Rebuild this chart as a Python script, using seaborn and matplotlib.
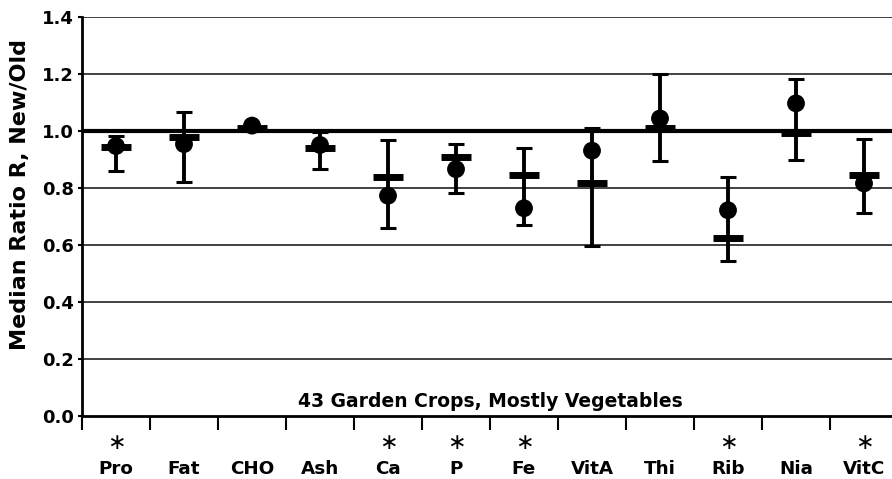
import matplotlib
matplotlib.use("Agg")
import matplotlib.pyplot as plt
import matplotlib.transforms as mtransforms
import seaborn as sns
import pandas as pd
import numpy as np

categories = ["Pro", "Fat", "CHO", "Ash", "Ca", "P", "Fe", "VitA", "Thi", "Rib", "Nia", "VitC"]
dot_values = [0.947, 0.954, 1.019, 0.951, 0.773, 0.866, 0.729, 0.931, 1.044, 0.722, 1.097, 0.816]
dash_values = [0.945, 0.979, 1.009, 0.941, 0.840, 0.910, 0.846, 0.818, 1.012, 0.623, 0.992, 0.847]
err_low = [0.860, 0.821, 1.000, 0.866, 0.660, 0.781, 0.670, 0.596, 0.894, 0.544, 0.898, 0.711]
err_high = [0.983, 1.067, 1.020, 0.998, 0.968, 0.953, 0.941, 1.012, 1.200, 0.839, 1.184, 0.973]
significant = [True, False, False, False, True, True, True, False, False, True, False, True]
annotation = "43 Garden Crops, Mostly Vegetables"
y_label = "Median Ratio R, New/Old"

sns.set_style("white")
plt.rcParams["font.family"] = ["DejaVu Sans"]
plt.rcParams["font.weight"] = "bold"
for k in ["text.color", "axes.labelcolor", "xtick.color", "ytick.color", "axes.edgecolor"]:
    plt.rcParams[k] = "black"

df = pd.DataFrame({"cat": categories, "dot": dot_values, "dash": dash_values,
                   "lo": err_low, "hi": err_high})
df["x"] = np.arange(len(categories))

fig = plt.figure(figsize=(8.92, 4.79), dpi=100)
ax = fig.add_axes([82 / 892, (479 - 416) / 479, (898 - 82) / 892, (416 - 17) / 479])

# gridlines
for v in [0.2, 0.4, 0.6, 0.8, 1.2, 1.4]:
    ax.axhline(v, color="#333333", lw=1.3, zorder=1)
ax.axhline(1.0, color="black", lw=3, zorder=1)

# error bars
ax.errorbar(df["x"], df["dash"], yerr=[df["dash"] - df["lo"], df["hi"] - df["dash"]],
            fmt="none", ecolor="black", elinewidth=2.8, capsize=5.5, capthick=2.2, zorder=3)

sns.scatterplot(data=df, x="x", y="dot", ax=ax, color="black", s=165, marker="o",
                edgecolor="none", zorder=4, legend=False)
sns.scatterplot(data=df, x="x", y="dash", ax=ax, color="black", s=450, marker="_",
                linewidth=5, zorder=5, legend=False)

ax.set_xlim(-0.5, len(categories) - 0.5)
ax.set_ylim(0, 1.4)
ax.set_yticks(np.arange(0, 1.41, 0.2))
ax.set_yticklabels([f"{v:.1f}" for v in np.arange(0, 1.41, 0.2)], fontsize=13, fontweight="bold")
ax.tick_params(axis="y", length=3, width=1.5, pad=3, left=True, colors="black")

ax.set_xticks(df["x"])
ax.set_xticklabels(categories, fontsize=13.2, fontweight="bold")
ax.tick_params(axis="x", which="major", length=0, pad=32, colors="black")
ax.set_xticks(np.arange(-0.5, len(categories), 1.0), minor=True)
ax.tick_params(axis="x", which="minor", length=10, width=1.5, bottom=True, color="black")

ax.set_xlabel("")
ax.set_ylabel(y_label, fontsize=16, fontweight="bold", color="black")
ax.yaxis.set_label_coords(-0.064, (416 - 195) / 399)

for s in ["top", "right"]:
    ax.spines[s].set_visible(False)
for s in ["left", "bottom"]:
    ax.spines[s].set_color("black")
    ax.spines[s].set_linewidth(2)

ax.text(0.5 * (len(categories) - 1), 0.05, annotation, ha="center", va="center",
        fontsize=13.5, fontweight="bold", color="black")

trans = mtransforms.blended_transform_factory(ax.transData, fig.transFigure)
for i, sig in enumerate(significant):
    if sig:
        ax.text(i, (479 - 443) / 479, "\u2217", ha="center", va="center", fontsize=16,
                fontweight="normal", transform=trans, clip_on=False, color="black")

fig.savefig("out.png", dpi=100)
